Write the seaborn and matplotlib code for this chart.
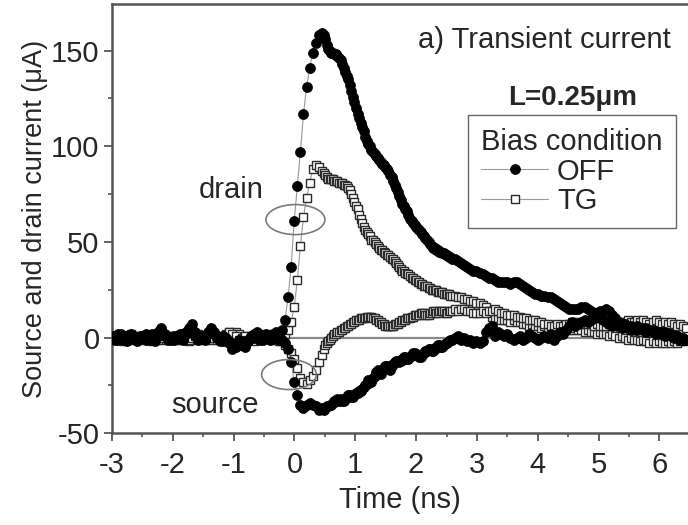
import numpy as np
import matplotlib
matplotlib.use("Agg")
import matplotlib.pyplot as plt
import seaborn as sns
from matplotlib.patches import Ellipse
from matplotlib.lines import Line2D
from matplotlib.ticker import MultipleLocator

# ---------------- data ----------------
# sampling times (ns): coarse before/after the pulse, finer during the fast decay
time_ns = np.round(np.concatenate([
    np.linspace(-3.0, 0.402, 68),
    np.linspace(0.453, 2.560, 84),
    np.linspace(2.586, 6.445, 77),
]), 4)

off_drain = [
    # pre-trigger + rise
    1, -1, 2, 0, -1, 1, 2, 0, -2, 1,
    0, 2, 1, -1, 0, 3, 5, 2, 0, -1,
    1, 0, 2, -1, 2, 4, 7, 3, 0, 1,
    -1, 2, 5, 3, 0, -2, 1, -1, -3, -6,
    -3, -1, -4, -5, -2, 1, 0, 3, 1, -1,
    1, -1, 2, 3, 1, 4, 9, 21, 37, 61,
    79, 97, 117, 131, 141, 149, 154, 158,
    # fast decay
    159, 158, 156, 153, 151, 150, 149, 149,
    148, 148, 147, 146, 145, 143, 141, 139,
    137, 135, 132, 129, 126, 123, 120, 117,
    115, 112, 110, 108, 105, 103, 101, 100,
    98, 97, 96, 95, 94, 93, 92, 91,
    90, 89, 88, 87, 85, 84, 82, 80,
    78, 76, 74, 72, 70, 69, 67, 66,
    64, 62, 61, 60, 59, 58, 57, 56,
    55, 54, 53, 52, 51, 50, 49, 48,
    47, 47, 46, 46, 45, 45, 44, 44,
    43, 43, 42, 42,
    # tail
    41, 41, 40, 39, 38, 37, 36, 35, 35, 34,
    33, 32, 31, 31, 30, 29, 29, 29, 29, 28,
    29, 29, 28, 27, 26, 25, 24, 23, 23, 22,
    22, 21, 21, 20, 19, 18, 17, 16, 15, 15,
    15, 15, 16, 16, 15, 14, 13, 13, 14, 14,
    15, 14, 12, 10, 8, 7, 7, 6, 6, 5,
    6, 5, 5, 5, 4, 4, 3, 3, 3, 3,
    2, 2, 1, 1, 0, -1, -1,
]

off_source = [
    0, 1, -1, 2, 1, -2, 0, 1, -1, 0,
    1, -1, 0, 2, -2, 1, 4, 1, -1, 0,
    -1, 1, 0, 2, 3, 5, 4, 1, -1, 0,
    1, 3, 4, 2, 0, -1, -2, 0, -2, -4,
    -5, -3, -2, -4, -1, 0, 2, 1, -1, 0,
    2, 1, 0, 1, -1, -1, -3, -6, -13, -23,
    -30, -35, -37, -35, -34, -35, -36, -38,
    -37, -38, -37, -36, -36, -35, -35, -34,
    -33, -33, -32, -33, -32, -33, -33, -32,
    -31, -30, -30, -31, -31, -30, -29, -29,
    -28, -28, -27, -26, -25, -24, -22, -23,
    -23, -21, -20, -18, -17, -18, -19, -17,
    -16, -15, -15, -16, -17, -15, -14, -13,
    -12, -12, -13, -12, -11, -10, -10, -11,
    -11, -10, -9, -8, -8, -9, -9, -10,
    -10, -9, -8, -7, -7, -6, -6, -7,
    -7, -6, -5, -4, -4, -5, -5, -4,
    -3, -3, -2, -1,
    -1, 0, 1, -1, 0, -2, -1, -3, -2, -3,
    -2, 3, 5, 6, 1, 3, 2, 1, 2, 0,
    -1, 0, 1, -1, 0, 2, 1, 0, -1, 0,
    1, 0, 2, -1, 1, 3, 2, 4, 6, 8,
    6, 7, 8, 9, 8, 9, 10, 11, 10, 9,
    8, 7, 6, 7, 6, 5, 6, 5, 4, 5,
    4, 5, 4, 3, 4, 3, 2, 3, 2, 1,
    2, 1, 0, 1, -1, 0, -1,
]

tg_drain = [
    0, -1, 1, 0, -2, 1, 0, -1, 1, 0,
    -1, 1, 0, -2, 0, 1, 2, -1, 0, 1,
    0, -1, 1, 2, 0, -2, 1, 0, -1, 0,
    1, 0, -1, 2, 1, -1, 0, 2, 3, 1,
    3, 2, 0, -1, 1, 0, -2, 1, 0, 2,
    1, 0, 2, 1, 0, 1, 2, 4, 8, 16,
    30, 48, 63, 73, 81, 88, 90, 89,
    87, 86, 85, 84, 83, 83, 83, 83,
    82, 82, 82, 81, 81, 81, 80, 80,
    79, 78, 77, 75, 73, 71, 69, 67,
    64, 62, 60, 58, 56, 55, 54, 53,
    51, 51, 50, 49, 48, 47, 46, 46,
    45, 44, 43, 43, 42, 41, 41, 40,
    39, 38, 37, 36, 35, 35, 34, 33,
    33, 32, 31, 31, 30, 30, 29, 29,
    28, 28, 27, 27, 27, 26, 26, 25,
    25, 25, 25, 24, 24, 24, 24, 23,
    23, 23, 23, 22,
    22, 22, 21, 21, 20, 20, 19, 19, 18, 18,
    17, 16, 14, 11, 10, 10, 9, 9, 9, 8,
    9, 8, 8, 7, 7, 6, 7, 6, 6, 5,
    6, 5, 6, 5, 4, 5, 4, 5, 4, 4,
    5, 4, 4, 3, 4, 3, 3, 2, 3, 2,
    2, 1, 2, 1, 0, 1, 0, -1, 0, -1,
    -1, -2, -1, -2, -3, -2, -3, -2, -3, -3,
    -2, -3, -2, -3, -2, -1, -2,
]

tg_source = [
    1, 0, -1, 1, 0, -1, 2, 0, -1, 0,
    0, 1, -1, 0, 1, -1, 0, 1, -1, 0,
    1, 0, -1, 0, 1, -1, 0, 1, 2, 0,
    -1, 0, 1, 0, -1, 1, 0, 1, 3, 2,
    1, -1, 0, 1, -1, 0, 1, 0, -1, 1,
    0, 1, -1, 0, -2, -2, -4, -6, -8, -11,
    -16, -21, -23, -24, -22, -20, -17, -13,
    -9, -6, -4, -3, -2, -1, 0, 1,
    2, 2, 3, 3, 4, 4, 5, 5,
    6, 6, 7, 7, 8, 8, 9, 9,
    9, 10, 10, 10, 10, 11, 11, 11,
    11, 10, 10, 9, 9, 8, 8, 7,
    7, 6, 6, 6, 6, 6, 6, 7,
    7, 7, 8, 8, 9, 9, 9, 10,
    10, 10, 11, 11, 12, 12, 12, 12,
    13, 13, 13, 12, 12, 12, 13, 13,
    14, 14, 13, 13, 14, 14, 14, 14,
    13, 13, 14, 14,
    14, 15, 14, 15, 15, 14, 14, 13, 13, 13,
    14, 13, 14, 14, 15, 14, 13, 13, 12, 12,
    12, 11, 11, 10, 10, 9, 9, 9, 8, 8,
    7, 7, 6, 6, 7, 6, 6, 7, 7, 8,
    8, 7, 7, 8, 7, 7, 6, 7, 6, 6,
    6, 7, 7, 8, 8, 7, 8, 9, 8, 8,
    9, 8, 9, 8, 7, 8, 9, 8, 7, 8,
    7, 8, 7, 6, 7, 6, 5,
]

x_ticks = [-3, -2, -1, 0, 1, 2, 3, 4, 5, 6]
y_ticks = [-50, 0, 50, 100, 150]
legend_labels = ["OFF", "TG"]

# ---------------- style ----------------
sns.set_theme(style="ticks")
plt.rcParams["font.family"] = ["Liberation Sans", "DejaVu Sans"]
plt.rcParams["axes.unicode_minus"] = False
FS = 21
SPINE = "#555555"
LINE = "#9a9a9a"

fig = plt.figure(figsize=(6.88, 5.25), dpi=100)
ax = fig.add_axes([0.1628, 0.1747, 0.8372, 0.8177])

ax.axhline(0, color="#8a8a8a", lw=1.6, zorder=1)

sq_kw = dict(marker="s", markersize=6.2, markerfacecolor="white",
             markeredgecolor="#2a2a2a", markeredgewidth=1.0)
ci_kw = dict(marker="o", markersize=7.2, markerfacecolor="black",
             markeredgecolor="black", markeredgewidth=0.5)

for ys in (tg_drain, tg_source):
    sns.lineplot(x=time_ns, y=ys, ax=ax, color=LINE, lw=0.8,
                 estimator=None, sort=False, legend=False, zorder=3, **sq_kw)
for ys in (off_drain, off_source):
    sns.lineplot(x=time_ns, y=ys, ax=ax, color=LINE, lw=0.8,
                 estimator=None, sort=False, legend=False, zorder=4, **ci_kw)

# ellipses marking drain / source groups
ax.add_patch(Ellipse((0.016, 61.7), 0.97, 15.7, fill=False,
                     edgecolor="#7a7a7a", lw=1.2, zorder=6))
ax.add_patch(Ellipse((-0.09, -19.3), 0.90, 15.7, fill=False,
                     edgecolor="#7a7a7a", lw=1.2, zorder=6))

ax.text(-1.04, 77, "drain", fontsize=FS, ha="center", va="center")
ax.text(-1.31, -35, "source", fontsize=FS, ha="center", va="center")
ax.text(2.03, 155.5, "a) Transient current", fontsize=FS, ha="left", va="center")
ax.text(4.58, 125, "L=0.25μm", fontsize=FS - 1, fontweight="bold",
        ha="center", va="center")

handles = [
    Line2D([0], [0], color=LINE, lw=0.8, **ci_kw),
    Line2D([0], [0], color=LINE, lw=0.8, **sq_kw),
]
leg = ax.legend(handles, legend_labels, title="Bias condition",
                loc="upper left", bbox_to_anchor=(0.618, 0.7414),
                borderaxespad=0, fontsize=FS, title_fontsize=FS,
                fancybox=False, frameon=True, edgecolor="#666666",
                framealpha=1, handlelength=2.3, handletextpad=0.3,
                labelspacing=0.05, borderpad=0.45)
leg.get_frame().set_linewidth(1.0)
leg._legend_box.align = "left"

ax.set_xlim(-3, 6.47)
ax.set_ylim(-50, 174.4)
ax.set_xticks(x_ticks)
ax.set_yticks(y_ticks)
ax.xaxis.set_minor_locator(MultipleLocator(0.5))
ax.yaxis.set_minor_locator(MultipleLocator(25))
ax.tick_params(which="major", direction="out", length=6, width=1.3,
               color=SPINE, labelsize=FS, pad=3)
ax.tick_params(which="minor", direction="out", length=3, width=1.2, color=SPINE)
ax.tick_params(axis="x", which="major", pad=7)

for side in ("left", "bottom", "top"):
    ax.spines[side].set_color(SPINE)
    ax.spines[side].set_linewidth(1.8)
ax.spines["right"].set_visible(False)

ax.set_xlabel("Time (ns)", fontsize=FS, labelpad=5)
ax.set_ylabel("Source and drain current (μA)", fontsize=19.5, labelpad=2)

fig.savefig("out.png", dpi=100)
